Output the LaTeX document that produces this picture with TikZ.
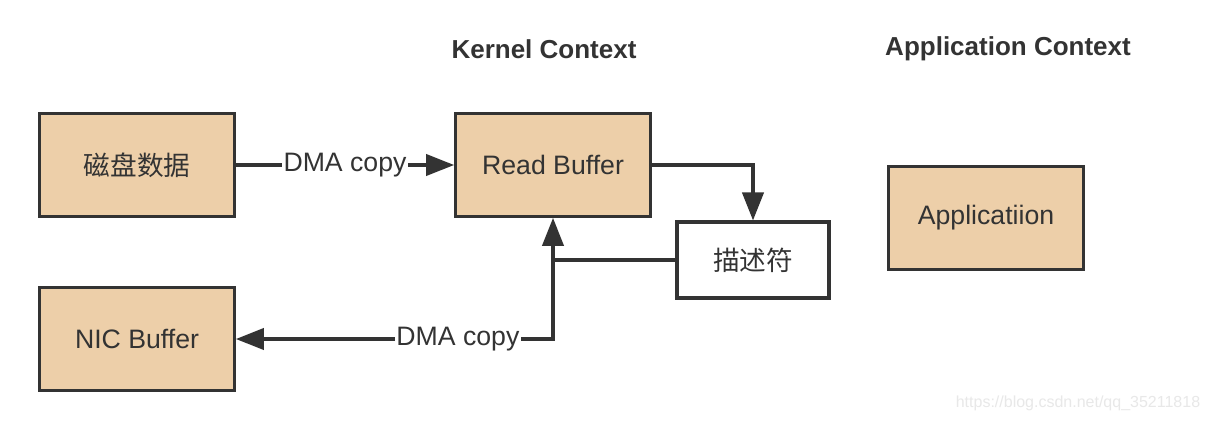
\documentclass[tikz,border=0pt]{standalone}
\usepackage{fontspec}
\setmainfont{Liberation Sans}
\newfontfamily\cjk{Noto Sans CJK SC}
\usetikzlibrary{positioning, arrows.meta}

\definecolor{boxtan}{HTML}{EDCFA9}
\definecolor{inkgray}{HTML}{333333}

\tikzset{
    buf/.style={draw=inkgray, line width=2.4pt, fill=boxtan, minimum width=146pt, minimum height=77pt, text=inkgray, font=\fontsize{20}{24}\selectfont},
    descbox/.style={draw=inkgray, line width=2.4pt, fill=white, minimum width=114pt, minimum height=57pt, text=inkgray, font=\fontsize{20}{24}\selectfont},
    link/.style={draw=inkgray, line width=2.3pt, -{Triangle[length=21pt, width=16pt]}},
    linklabel/.style={fill=white, inner sep=1pt, text=inkgray, font=\fontsize{20}{24}\selectfont},
    ctxtitle/.style={text=inkgray, font=\fontsize{19.5}{24}\selectfont\bfseries}
}

\begin{document}
\begin{tikzpicture}[x=0.75pt, y=-0.75pt]
            \useasboundingbox[fill=white] (0,0) rectangle (1210,422);

            % headings
            \node[ctxtitle] (kctx) at (544, 49) {Kernel Context};
            \node[ctxtitle] (actx) at (1008, 49) {Application Context};

            % buffers
            \node[buf] (disk) at (137, 165) {\cjk 磁盘数据};
            \node[buf] (nic) at (137, 339) {NIC Buffer};
            \node[buf] (readbuf) at (553, 165) {Read Buffer};
            \node[descbox] (desc) at (753, 260) {\cjk 描述符};
            \node[buf] (app) at (986, 218) {Applicatiion};

            % copies
            \draw[link] (disk) -- node[linklabel] (dma1) {DMA copy} (readbuf);
            \draw[link] (readbuf.east) -| (desc.north);
            \draw[link] (desc.west) -| (readbuf.south);
            \coordinate (join) at (readbuf.south |- desc.west);
            \draw[link] (join) |- node[linklabel, pos=0.65] (dma2) {DMA copy} (nic.east);

            % watermark
            \node[text=gray!18, font=\fontsize{12}{14}\selectfont] (mark) at (1078, 403) {https://blog.csdn.net/qq\_35211818};
\end{tikzpicture}
\end{document}
